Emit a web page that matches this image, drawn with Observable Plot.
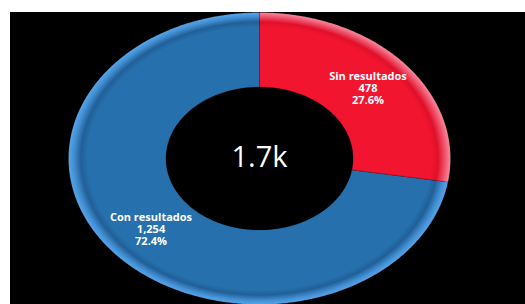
<!DOCTYPE html>
<html><head><meta charset="utf-8">
<script src="https://cdn.jsdelivr.net/npm/d3@7"></script>
<script src="https://cdn.jsdelivr.net/npm/@observablehq/plot@0.6"></script>
<style>
html,body{margin:0;padding:0;background:#fff;}
#chart{padding:12px 0 0 10px;}
svg{display:block}
</style></head><body><div id="chart"></div>
<script>
const categories = ["Sin resultados", "Con resultados"];
const values = [478, 1254];
const colors = ["#f2152f", "#2671ad"];
const edgeColors = [["#e0102a", "#f0506a", "#f78c9c"], ["#215f98", "#3f8ccf", "#58a6ea"]];
const innerRatio = 0.49;

const total = d3.sum(values);
let acc = 0;
const slices = categories.map((name, i) => {
  const a0 = acc / total * 2 * Math.PI; acc += values[i];
  const a1 = acc / total * 2 * Math.PI;
  return {name, value: values[i], a0, a1, i, mid: (a0 + a1) / 2};
});
function ring(s) {
  const pts = [];
  const n = Math.max(2, Math.ceil((s.a1 - s.a0) / (Math.PI / 360)));
  for (let k = 0; k <= n; k++) { const a = s.a0 + (s.a1 - s.a0) * k / n; pts.push({x: Math.sin(a), y: Math.cos(a)}); }
  for (let k = n; k >= 0; k--) { const a = s.a0 + (s.a1 - s.a0) * k / n; pts.push({x: innerRatio * Math.sin(a), y: innerRatio * Math.cos(a)}); }
  return pts;
}
const labelR = (1 + innerRatio) / 2;
const fmtN = d3.format(",");
const fmtP = d3.format(".1%");

const plot = Plot.plot({
  width: 515, height: 292,
  marginLeft: 58, marginRight: 75, marginTop: 0, marginBottom: 0,
  x: {domain: [-1, 1], axis: null},
  y: {domain: [-1, 1], axis: null},
  style: {background: "black", fontFamily: "Open Sans, sans-serif"},
  marks: [
    ...slices.map(s => Plot.line(ring(s), {x: "x", y: "y", fill: `url(#grad${s.i})`, stroke: "rgba(0,0,0,0.25)", strokeWidth: 0.6, curve: "linear-closed"})),
    Plot.text(slices, {
      x: d => labelR * Math.sin(d.mid), y: d => labelR * Math.cos(d.mid),
      text: d => `${d.name}\n${fmtN(d.value)}\n${fmtP(d.value / total)}`,
      fill: "white", fontWeight: "bold", fontSize: 11, lineHeight: 1.1, ariaLabel: "labels"
    }),
    Plot.text([total], {x: () => 0, y: () => 0, text: d => d3.format(".2s")(d), fill: "white", fontSize: 29, dy: -1})
  ]
});

const sx = plot.scale("x"), sy = plot.scale("y");
const cx = sx.apply(0), cy = sy.apply(0), rx = sx.apply(1) - cx, ry = cy - sy.apply(1);
const svg = d3.select(plot);
const defs = svg.insert("defs", ":first-child");
slices.forEach(s => {
  const g = defs.append("radialGradient").attr("id", `grad${s.i}`)
    .attr("gradientUnits", "userSpaceOnUse")
    .attr("cx", cx).attr("cy", cy).attr("r", rx)
    .attr("gradientTransform", `translate(${cx},${cy}) scale(1,${ry / rx}) translate(${-cx},${-cy})`);
  const e = edgeColors[s.i];
  [[0, colors[s.i]], [0.9, colors[s.i]], [0.935, e[0]], [0.97, e[1]], [1, e[2]]]
    .forEach(([o, c]) => g.append("stop").attr("offset", o).attr("stop-color", c));
});
svg.select('g[aria-label="labels"]')
  .style("filter", "drop-shadow(1px 1px 1px rgba(0,0,0,0.75))")
  .style("letter-spacing", "0.5px");
document.getElementById("chart").append(plot);
</script></body></html>
